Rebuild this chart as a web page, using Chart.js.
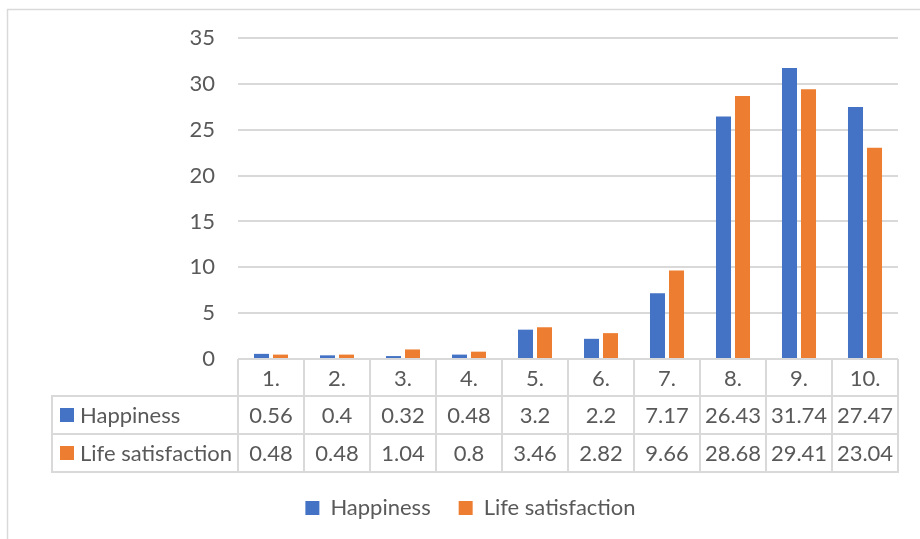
<!DOCTYPE html>
<html>
<head>
<meta charset="utf-8">
<script src="https://cdn.jsdelivr.net/npm/chart.js@4.4.0/dist/chart.umd.min.js"></script>
<style>
  html, body { margin: 0; padding: 0; background: #fff; }
  canvas { display: block; }
</style>
</head>
<body>
<canvas id="chart" width="920" height="539"></canvas>
<script>
const categories = ['1.', '2.', '3.', '4.', '5.', '6.', '7.', '8.', '9.', '10.'];
const happiness = [0.56, 0.4, 0.32, 0.48, 3.2, 2.2, 7.17, 26.43, 31.74, 27.47];
const lifeSatisfaction = [0.48, 0.48, 1.04, 0.8, 3.46, 2.82, 9.66, 28.68, 29.41, 23.04];
const seriesNames = ['Happiness', 'Life satisfaction'];
const yTicks = [0, 5, 10, 15, 20, 25, 30, 35];

const FONT = 'Lato';
const TEXT = '#595959';
const LINE = '#D9D9D9';
const BLUE = '#4472C4';
const ORANGE = '#ED7D31';

// plugin : cadre du graphique + tableau de données sous l'axe x
const dataTable = {
  id: 'dataTable',
  beforeDraw(chart) {
    const ctx = chart.ctx;
    ctx.save();
    ctx.strokeStyle = LINE;
    ctx.lineWidth = 1.5;
    ctx.strokeRect(7.5, 9.5, 960, 600);
    ctx.restore();
  },
  afterDraw(chart) {
    const { ctx, chartArea } = chart;
    const xScale = chart.scales.x;
    const step = (chartArea.right - chartArea.left) / categories.length;
    const top = chartArea.bottom;
    const y1 = top + 37;
    const y2 = y1 + 38;
    const y3 = y2 + 38;
    const tableLeft = 52;
    const rows = [
      { name: seriesNames[0], color: BLUE, values: happiness, top: y1, bottom: y2 },
      { name: seriesNames[1], color: ORANGE, values: lifeSatisfaction, top: y2, bottom: y3 },
    ];

    ctx.save();
    ctx.strokeStyle = LINE;
    ctx.lineWidth = 2;
    ctx.beginPath();
    // lignes verticales des catégories
    for (let i = 0; i <= categories.length; i++) {
      const x = chartArea.left + i * step;
      ctx.moveTo(x, top);
      ctx.lineTo(x, y3);
    }
    ctx.moveTo(tableLeft, y1);
    ctx.lineTo(tableLeft, y3);
    // lignes horizontales
    [y1, y2, y3].forEach((y) => {
      ctx.moveTo(tableLeft - 1, y);
      ctx.lineTo(chartArea.right + 1, y);
    });
    ctx.stroke();

    ctx.fillStyle = TEXT;
    ctx.font = `22px ${FONT}`;
    ctx.textBaseline = 'middle';
    ctx.textAlign = 'center';
    categories.forEach((cat, i) => {
      ctx.fillText(cat, xScale.getPixelForValue(i), (top + y1) / 2 + 1);
    });
    rows.forEach((row) => {
      const mid = (row.top + row.bottom) / 2 + 1;
      ctx.textAlign = 'center';
      ctx.fillStyle = TEXT;
      row.values.forEach((v, i) => {
        ctx.fillText(String(v), xScale.getPixelForValue(i), mid);
      });
      ctx.fillStyle = row.color;
      ctx.fillRect(60, mid - 8, 14, 14);
      ctx.fillStyle = TEXT;
      ctx.textAlign = 'left';
      ctx.fillText(row.name, 80, mid);
    });
    ctx.restore();
  },
};

new Chart(document.getElementById('chart'), {
  type: 'bar',
  data: {
    labels: categories,
    datasets: [
      { label: seriesNames[0], data: happiness, backgroundColor: BLUE },
      { label: seriesNames[1], data: lifeSatisfaction, backgroundColor: ORANGE },
    ],
  },
  options: {
    responsive: false,
    animation: false,
    datasets: {
      bar: { categoryPercentage: 0.576, barPercentage: 0.79 },
    },
    layout: { padding: { top: 38, left: 43, right: 22, bottom: 10 } },
    plugins: {
      tooltip: { enabled: false },
      legend: {
        position: 'bottom',
        labels: {
          boxWidth: 14,
          boxHeight: 14,
          padding: 28,
          color: TEXT,
          font: { family: FONT, size: 22 },
        },
      },
    },
    scales: {
      x: {
        ticks: { display: false },
        grid: { display: false },
        border: { display: false },
        afterFit: (scale) => { scale.height = 110; },
      },
      y: {
        min: 0,
        max: 35,
        afterBuildTicks: (scale) => { scale.ticks = yTicks.map((v) => ({ value: v })); },
        ticks: { padding: 23, color: TEXT, font: { family: FONT, size: 22 } },
        grid: { color: LINE, lineWidth: 2, drawTicks: false },
        border: { display: false },
        afterFit: (scale) => { scale.width = 195; },
      },
    },
  },
  plugins: [dataTable],
});
</script>
</body>
</html>
